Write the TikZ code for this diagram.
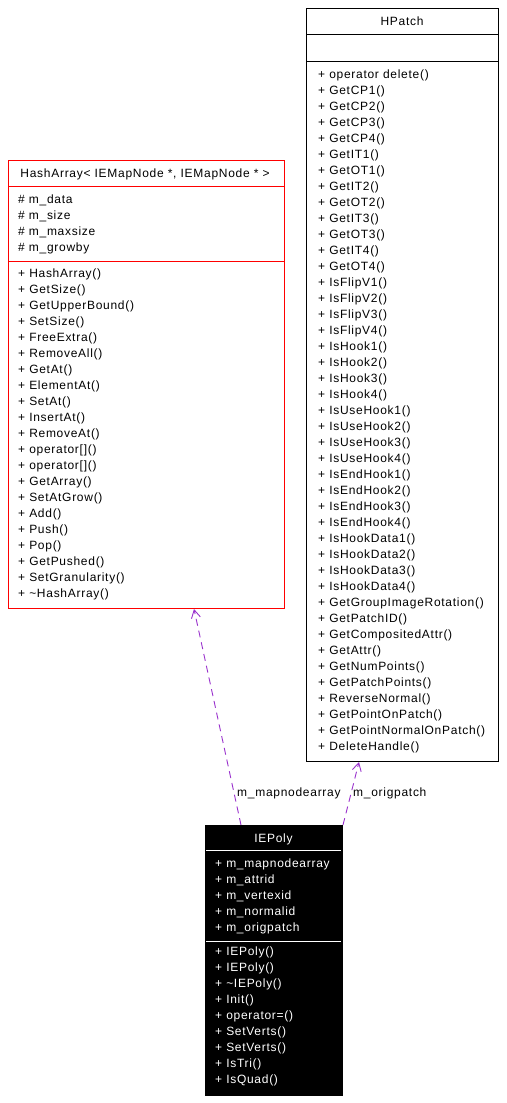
\documentclass[tikz,border=0pt]{standalone}
\usepackage{fontspec}
\setmainfont{Liberation Sans}[LetterSpace=6]
\usetikzlibrary{arrows.meta,calc}
\definecolor{assoc}{HTML}{9A32CD}
\definecolor{redline}{HTML}{FF0000}
\tikzset{
  box/.style={draw, line width=1pt, inner sep=0pt, anchor=north west},
  txt/.style={anchor=base west, inner sep=0pt, font=\fontsize{12}{16}\selectfont},
  ttl/.style={anchor=base, inner sep=0pt, font=\fontsize{12}{16}\selectfont},
  lbl/.style={anchor=base west, inner sep=0pt, font=\fontsize{12}{16}\selectfont},
  usage/.style={draw=assoc, line width=0.9pt, dash pattern=on 7pt off 5pt, -{Straight Barb[length=8pt,width=9pt,line width=0.9pt]}}
}
\begin{document}
\begin{tikzpicture}[x=1pt,y=-1pt]
\useasboundingbox[fill=white] (0,0) rectangle (506,1103);

% HPatch
\node[box, minimum width=192pt, minimum height=753pt] (hpatch) at (306,8) {};
\draw[line width=1pt] (306,34) -- (498,34);
\draw[line width=1pt] (306,61) -- (498,61);
\node[ttl] (hpt) at (402,25) {HPatch};
\foreach [count=\i] \t in {operator delete(), GetCP1(), GetCP2(), GetCP3(), GetCP4(),
  GetIT1(), GetOT1(), GetIT2(), GetOT2(), GetIT3(), GetOT3(), GetIT4(), GetOT4(),
  IsFlipV1(), IsFlipV2(), IsFlipV3(), IsFlipV4(),
  IsHook1(), IsHook2(), IsHook3(), IsHook4(),
  IsUseHook1(), IsUseHook2(), IsUseHook3(), IsUseHook4(),
  IsEndHook1(), IsEndHook2(), IsEndHook3(), IsEndHook4(),
  IsHookData1(), IsHookData2(), IsHookData3(), IsHookData4(),
  GetGroupImageRotation(), GetPatchID(), GetCompositedAttr(), GetAttr(),
  GetNumPoints(), GetPatchPoints(), ReverseNormal(), GetPointOnPatch(),
  GetPointNormalOnPatch(), DeleteHandle()}
  \node[txt] (hpm\i) at (318,{78+16*(\i-1)}) {+ \t};

% HashArray
\node[box, draw=redline, minimum width=276pt, minimum height=448pt] (hash) at (8,160) {};
\draw[redline, line width=1pt] (8,186) -- (284,186);
\draw[redline, line width=1pt] (8,261) -- (284,261);
\node[ttl] (hat) at (145,177) {HashArray< IEMapNode *, IEMapNode * >};
\foreach [count=\i] \t in {m\_data, m\_size, m\_maxsize, m\_growby}
  \node[txt] (haa\i) at (18,{203+16*(\i-1)}) {\# \t};
\foreach [count=\i] \t in {HashArray(), GetSize(), GetUpperBound(), SetSize(), FreeExtra(),
  RemoveAll(), GetAt(), ElementAt(), SetAt(), InsertAt(), RemoveAt(), operator[](),
  operator[](), GetArray(), SetAtGrow(), Add(), Push(), Pop(), GetPushed(),
  SetGranularity(), \textasciitilde HashArray()}
  \node[txt] (ham\i) at (18,{277+16*(\i-1)}) {+ \t};

% IEPoly
\node[box, fill=black, minimum width=137pt, minimum height=270pt] (iepoly) at (205,825) {};
\draw[white, line width=1pt] (206,850) -- (341,850);
\draw[white, line width=1pt] (206,941) -- (341,941);
\node[ttl, text=white] (iet) at (273.5,842) {IEPoly};
\foreach [count=\i] \t in {m\_mapnodearray, m\_attrid, m\_vertexid, m\_normalid, m\_origpatch}
  \node[txt, text=white] (iea\i) at (215,{867+16*(\i-1)}) {+ \t};
\foreach [count=\i] \t in {IEPoly(), IEPoly(), \textasciitilde IEPoly(), Init(), operator=(),
  SetVerts(), SetVerts(), IsTri(), IsQuad()}
  \node[txt, text=white] (iem\i) at (215,{955+16*(\i-1)}) {+ \t};

% connectors
\draw[usage] ($(iepoly.north west)+(36,0)$) -- ($(hash.south west)+(186,0)$);
\draw[usage] (iepoly.north east) -- ($(hpatch.south west)+(53,0)$);
\node[lbl] (l1) at (237,796) {m\_mapnodearray};
\node[lbl] (l2) at (353,796) {m\_origpatch};
\end{tikzpicture}
\end{document}
